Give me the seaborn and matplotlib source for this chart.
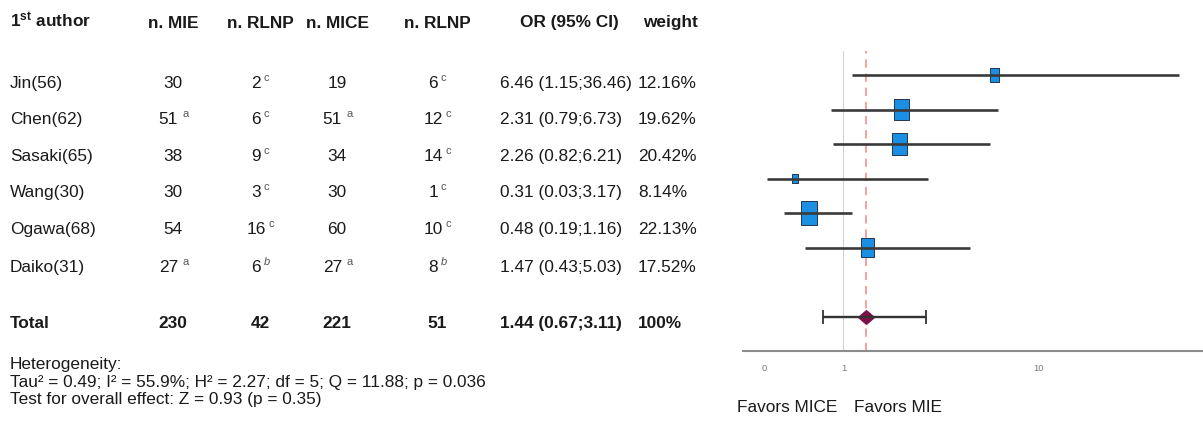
import numpy as np
import pandas as pd
import matplotlib
matplotlib.use("Agg")
import matplotlib.pyplot as plt
from matplotlib.path import Path
import seaborn as sns

# ---- study data ----
authors = ["Jin(56)", "Chen(62)", "Sasaki(65)", "Wang(30)", "Ogawa(68)", "Daiko(31)"]
n_mie = [30, 51, 38, 30, 54, 27]
n_mie_sup = ["", "a", "", "", "", "a"]
rlnp_mie = [2, 6, 9, 3, 16, 6]
rlnp_mie_sup = ["c", "c", "c", "c", "c", "b"]
n_mice = [19, 51, 34, 30, 60, 27]
n_mice_sup = ["", "a", "", "", "", "a"]
rlnp_mice = [6, 12, 14, 1, 10, 8]
rlnp_mice_sup = ["c", "c", "c", "c", "c", "b"]
odds_ratio = [6.46, 2.31, 2.26, 0.31, 0.48, 1.47]
ci_low = [1.15, 0.79, 0.82, 0.03, 0.19, 0.43]
ci_high = [36.46, 6.73, 6.21, 3.17, 1.16, 5.03]
weights = [12.16, 19.62, 20.42, 8.14, 22.13, 17.52]

total_counts = [230, 42, 221, 51]
pooled_or = 1.44
pooled_low = 0.67
pooled_high = 3.11
pooled_weight = "100%"

headers = ["n. MIE", "n. RLNP", "n. MICE", "n. RLNP", "OR (95% CI)", "weight"]
x_ticks = [0, 1, 10]
x_tick_labels = ["0", "1", "10"]

footer_lines = [
    "Heterogeneity:",
    "Tau² = 0.49; I² = 55.9%; H² = 2.27; df = 5; Q = 11.88; p = 0.036",
    "Test for overall effect: Z = 0.93 (p = 0.35)",
]

# ---- style ----
sns.set_theme(style="white")
plt.rcParams["font.family"] = ["Liberation Sans", "DejaVu Sans"]
plt.rcParams["mathtext.fontset"] = "custom"
plt.rcParams["mathtext.rm"] = "Liberation Sans"
plt.rcParams["mathtext.bf"] = "Liberation Sans:bold"
plt.rcParams["mathtext.it"] = "Liberation Sans:italic"

W, H = 1203, 427
fig = plt.figure(figsize=(W / 100, H / 100), dpi=100)
fig.patch.set_facecolor("white")

# ---- table (pixel-space overlay) ----
tab = fig.add_axes([0, 0, 1, 1])
tab.set_xlim(0, W)
tab.set_ylim(H, 0)
tab.axis("off")

FS = 12.4
SUP_FS = 8
ink = "#1a1a1a"
header_base = 27.5
row_base = [88, 124.3, 160.7, 197.3, 234, 271.7]
total_base = 328.3
col_center = [173, 260, 337, 437]
or_left = 500
or_head_center = 569
w_left = 638
w_head_center = 670

tab.text(10, header_base, r"1$^{\mathbf{st}}$ author", fontsize=FS,
         fontweight="bold", color=ink, ha="left", va="baseline")
for cx, h in zip(col_center, headers[:4]):
    tab.text(cx, header_base, h, fontsize=FS, fontweight="bold", color=ink,
             ha="center", va="baseline")
tab.text(or_head_center, header_base, headers[4], fontsize=FS, fontweight="bold",
         color=ink, ha="center", va="baseline")
tab.text(w_head_center, header_base, headers[5], fontsize=FS, fontweight="bold",
         color=ink, ha="center", va="baseline")


def cell(x, y, value, sup):
    """Centered number with an optional small superscript letter."""
    if not sup:
        tab.text(x, y, str(value), fontsize=FS, color=ink, ha="center", va="baseline")
        return
    gap = 3.0 if sup == "a" else 1.6
    shift = 4.6 if sup == "a" else 3.6
    t = tab.text(x - shift, y, str(value), fontsize=FS, color=ink,
                 ha="center", va="baseline")
    tab.annotate(sup, xy=(1, 0.93), xycoords=t, xytext=(gap, 3.0),
                 textcoords="offset points", ha="left", va="top",
                 fontsize=SUP_FS, color="#555555",
                 fontstyle="italic" if sup == "b" else "normal")


for i, yb in enumerate(row_base):
    tab.text(10, yb, authors[i], fontsize=FS, color=ink, ha="left", va="baseline")
    cell(col_center[0], yb, n_mie[i], n_mie_sup[i])
    cell(col_center[1], yb, rlnp_mie[i], rlnp_mie_sup[i])
    cell(col_center[2], yb, n_mice[i], n_mice_sup[i])
    cell(col_center[3], yb, rlnp_mice[i], rlnp_mice_sup[i])
    tab.text(or_left, yb, f"{odds_ratio[i]:.2f} ({ci_low[i]:.2f};{ci_high[i]:.2f})",
             fontsize=FS, color=ink, ha="left", va="baseline")
    tab.text(w_left, yb, f"{weights[i]:.2f}%", fontsize=FS, color=ink,
             ha="left", va="baseline")

tab.text(10, total_base, "Total", fontsize=FS, fontweight="bold", color=ink,
         ha="left", va="baseline")
for cx, v in zip(col_center, total_counts):
    tab.text(cx, total_base, str(v), fontsize=FS, fontweight="bold", color=ink,
             ha="center", va="baseline")
tab.text(or_left, total_base, f"{pooled_or:.2f} ({pooled_low:.2f};{pooled_high:.2f})",
         fontsize=FS, fontweight="bold", color=ink, ha="left", va="baseline")
tab.text(w_left, total_base, pooled_weight, fontsize=FS, fontweight="bold",
         color=ink, ha="left", va="baseline")

for yb, line in zip([369.3, 386.8, 404.5], footer_lines):
    tab.text(10, yb, line, fontsize=FS, color=ink, ha="left", va="baseline")

tab.text(737, 411.7, "Favors MICE", fontsize=FS, color=ink, ha="left", va="baseline")
tab.text(854, 411.7, "Favors MIE", fontsize=FS, color=ink, ha="left", va="baseline")

# ---- forest plot ----
ax_left, ax_right, ax_top, ax_bottom = 743, W, 52, 352
ax = fig.add_axes([ax_left / W, (H - ax_bottom) / H,
                   (ax_right - ax_left) / W, (ax_bottom - ax_top) / H])
ax.set_facecolor("none")
ax.set_xscale("function", functions=(lambda v: np.log10(v + 1),
                                     lambda v: 10 ** v - 1))

rows = np.arange(len(authors))
total_row = len(authors) + 1
df = pd.DataFrame({"or": odds_ratio, "row": rows, "lo": ci_low,
                   "hi": ci_high, "weight": weights})

# reference lines: no effect and pooled estimate
ax.axvline(1, color="#d2d2d2", lw=0.8, zorder=1)
ax.axvline(pooled_or, color="#f29090", lw=1.2, ls=(0, (5, 3.5)), zorder=1)

# study boxes, height scaled by weight
box = Path([(-0.69, -1), (0.69, -1), (0.69, 1), (-0.69, 1), (-0.69, -1)],
           [Path.MOVETO, Path.LINETO, Path.LINETO, Path.LINETO, Path.CLOSEPOLY])
box_sizes = (np.array(weights) * 1.1 * 0.72) ** 2
sns.scatterplot(data=df, x="or", y="row", s=box_sizes, marker=box,
                color="#1b8fe4", edgecolor="#22364f", linewidth=0.7,
                zorder=3, legend=False, ax=ax)
ax.hlines(df["row"], df["lo"], df["hi"], color="#3a3a3a", lw=1.9, zorder=4)

# pooled estimate
diamond = Path([(-1, 0), (0, 0.85), (1, 0), (0, -0.85), (-1, 0)],
               [Path.MOVETO, Path.LINETO, Path.LINETO, Path.LINETO, Path.CLOSEPOLY])
sns.scatterplot(x=[pooled_or], y=[total_row], s=150, marker=diamond,
                color="#7c0f46", edgecolor="#7c0f46", linewidth=0.5,
                zorder=3, legend=False, ax=ax)
ax.errorbar([pooled_or], [total_row],
            xerr=[[pooled_or - pooled_low], [pooled_high - pooled_or]],
            fmt="none", ecolor="#333333", elinewidth=1.7, capsize=5,
            capthick=1.3, zorder=5)

ax.set_xlim(-0.168, 45.2)
ax.set_ylim(total_row + 1, -0.7)
ax.set_xticks(x_ticks)
ax.set_xticklabels(x_tick_labels)
ax.set_yticks([])
ax.set_xlabel("")
ax.set_ylabel("")
ax.tick_params(axis="x", length=0, labelsize=6.8, labelcolor="#7a7a7a", pad=9)
for side in ["left", "right", "top"]:
    ax.spines[side].set_visible(False)
ax.spines["bottom"].set_color("#8c8c8c")
ax.spines["bottom"].set_linewidth(1.5)

fig.savefig("out.png", dpi=100, facecolor="white")
